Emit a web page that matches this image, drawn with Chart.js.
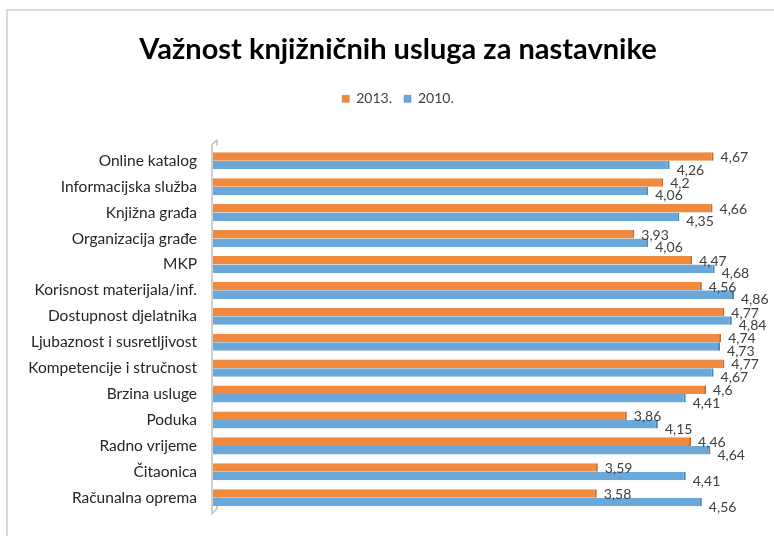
<!DOCTYPE html>
<html>
<head>
<meta charset="utf-8">
<script src="https://cdn.jsdelivr.net/npm/chart.js@4.4.1/dist/chart.umd.min.js"></script>
<style>
    html, body { margin: 0; padding: 0; background: #fff; overflow: hidden; }
    #wrap { position: relative; width: 774px; height: 536px; }
    #frame { position: absolute; left: 6px; top: 9px; right: -5px; bottom: -5px; border-left: 2px solid #d9d9d9; border-top: 2px solid #d9d9d9; }
    #chart { position: absolute; left: 0; top: 0; }
</style>
</head>
<body>
<div id="wrap">
    <div id="frame"></div>
    <canvas id="chart" width="774" height="536"></canvas>
</div>
<script>
(function () {
    "use strict";

    const categories = [
        "Online katalog",
        "Informacijska služba",
        "Knjižna građa",
        "Organizacija građe",
        "MKP",
        "Korisnost materijala/inf.",
        "Dostupnost djelatnika",
        "Ljubaznost i susretljivost",
        "Kompetencije i stručnost",
        "Brzina usluge",
        "Poduka",
        "Radno vrijeme",
        "Čitaonica",
        "Računalna oprema",
    ];
    const values2013 = [4.67, 4.2, 4.66, 3.93, 4.47, 4.56, 4.77, 4.74, 4.77, 4.6, 3.86, 4.46, 3.59, 3.58];
    const values2010 = [4.26, 4.06, 4.35, 4.06, 4.68, 4.86, 4.84, 4.73, 4.67, 4.41, 4.15, 4.64, 4.41, 4.56];

    const FONT = "Lato, 'Liberation Sans', sans-serif";

    // Value labels next to each bar, Croatian decimal comma
    const barLabels = {
        id: "barLabels",
        afterDatasetsDraw(chart) {
            const ctx = chart.ctx;
            ctx.save();
            ctx.font = "14px " + FONT;
            ctx.fillStyle = "#404040";
            ctx.textAlign = "left";
            ctx.textBaseline = "middle";
            chart.data.datasets.forEach((ds, i) => {
                const meta = chart.getDatasetMeta(i);
                meta.data.forEach((bar, j) => {
                    const txt = String(ds.data[j]).replace(".", ",");
                    const dy = i === 0 ? 1 : 5;
                    ctx.fillText(txt, bar.x + 7, bar.y + dy);
                });
            });
            ctx.restore();
        },
    };

    // Left wall of the 3D plot
    const wall = {
        id: "wall",
        beforeDatasetsDraw(chart) {
            const { ctx, chartArea } = chart;
            const x = chartArea.left - 1;
            ctx.save();
            ctx.strokeStyle = "#c0c0c0";
            ctx.lineWidth = 1.5;
            ctx.beginPath();
            ctx.moveTo(x + 5, chartArea.top - 8);
            ctx.lineTo(x, chartArea.top - 3);
            ctx.lineTo(x, chartArea.bottom + 3);
            ctx.lineTo(x + 5, chartArea.bottom - 2);
            ctx.moveTo(x + 5, chartArea.top - 8);
            ctx.lineTo(x + 5, chartArea.top - 2);
            ctx.moveTo(x + 5, chartArea.bottom - 2);
            ctx.lineTo(x + 5, chartArea.bottom - 20);
            ctx.stroke();
            ctx.restore();
        },
    };

    new Chart(document.getElementById("chart"), {
        type: "bar",
        data: {
            labels: categories,
            datasets: [
                {
                    label: "2013.",
                    data: values2013,
                    backgroundColor: "#f08a3e",
                    borderColor: "#c96a28",
                    borderWidth: { top: 0, right: 2, bottom: 0, left: 0 },
                    borderSkipped: false,
                },
                {
                    label: "2010.",
                    data: values2010,
                    backgroundColor: "#6aa8da",
                    borderColor: "#4a86b8",
                    borderWidth: { top: 0, right: 2, bottom: 0, left: 0 },
                    borderSkipped: false,
                },
            ],
        },
        options: {
            indexAxis: "y",
            responsive: false,
            animation: false,
            categoryPercentage: 0.66,
            barPercentage: 1.0,
            layout: {
                // title/legend are centred a bit right of the canvas middle
                padding: { left: 0, right: -22, top: 0, bottom: 14 },
            },
            plugins: {
                title: {
                    display: true,
                    text: "Važnost knjižničnih usluga za nastavnike",
                    color: "#000",
                    font: { family: FONT, size: 29, weight: "bold" },
                    padding: { top: 32, bottom: 13 },
                },
                legend: {
                    display: true,
                    position: "top",
                    labels: {
                        color: "#404040",
                        font: { family: FONT, size: 14 },
                        boxWidth: 7,
                        boxHeight: 7,
                        padding: 12,
                    },
                },
                tooltip: { enabled: false },
            },
            scales: {
                x: {
                    min: 0,
                    max: 5,
                    position: "top",
                    grid: { display: false, drawTicks: false },
                    border: { display: false },
                    ticks: { display: false },
                    afterFit: (scale) => {
                        scale.height = 32;
                    },
                },
                y: {
                    afterFit: (scale) => {
                        scale.width = 213;
                    },
                    grid: { display: false, drawTicks: false },
                    border: { display: false },
                    ticks: {
                        color: "#262626",
                        font: { family: FONT, size: 15.5 },
                        padding: 16,
                    },
                },
                // empty spacer on the right side of the plot
                yRight: {
                    type: "category",
                    position: "right",
                    grid: { display: false, drawTicks: false },
                    border: { display: false },
                    ticks: { display: false },
                    afterFit: (scale) => {
                        scale.width = 47;
                    },
                },
            },
        },
        plugins: [wall, barLabels],
    });
})();
</script>
</body>
</html>
